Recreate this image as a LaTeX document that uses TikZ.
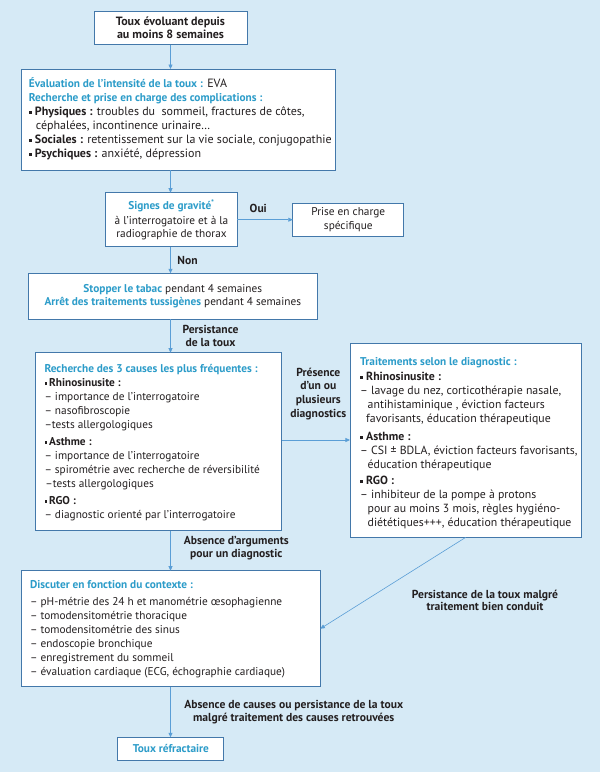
\documentclass[tikz,border=0pt]{standalone}
\usepackage{fontspec}
\setmainfont{PT Sans}
\usetikzlibrary{arrows.meta}
\definecolor{bgc}{HTML}{D6EAF6}
\definecolor{boxc}{HTML}{4378AA}
\definecolor{arrc}{HTML}{5A9ED6}
\definecolor{ttl}{HTML}{2C9CC9}
\definecolor{txt}{HTML}{231F20}
\newcommand{\sq}{\rule[0.3ex]{2.8pt}{2.8pt}}
\newcommand{\ttlt}[1]{{\color{ttl}\bfseries#1}}
\newcommand{\ttls}[1]{{\fontsize{11.3}{14}\selectfont\color{ttl}\bfseries#1}}
\newcommand{\freg}{\fontsize{11.3}{14}\selectfont}
\newcommand{\fbld}{\fontsize{11.6}{13}\selectfont\bfseries}
\begin{document}
\begin{tikzpicture}[x=1pt,y=-1pt,
  every node/.style={text=txt,font=\freg},
  box/.style={draw=boxc,fill=white,line width=0.9pt,inner sep=0pt,outer sep=0pt},
  cbox/.style={box,align=center},
  btxt/.style={anchor=base west,align=left,inner sep=0pt},
  lab/.style={align=center,font=\fbld,inner sep=0pt},
  arr/.style={draw=arrc,line width=0.6pt,-{Triangle[length=4.5pt,width=4pt]}}]
\fill[bgc] (0,0) rectangle (600,772);
\useasboundingbox (0,0) rectangle (600,772);

% boxes
\node[cbox,minimum width=153pt,minimum height=33.4pt,font=\fontsize{12}{12.8}\selectfont\bfseries] (top) at (170.5,28)
  {Toux évoluant depuis\\au moins 8 semaines};
\node[box,minimum width=314.6pt,minimum height=101pt] (eval) at (178.3,119.5) {};
\node[cbox,minimum width=131.7pt,minimum height=54pt,font=\fontsize{11.3}{13.4}\selectfont] (sig) at (171.5,219.7)
  {\ttlt{Signes de gravité\textsuperscript{*}}\\[1.5pt]à l’interrogatoire et à la\\radiographie de thorax};
\node[cbox,minimum width=111pt,minimum height=32.7pt,font=\fontsize{11.3}{13.4}\selectfont] (prise) at (348.3,219.7)
  {Prise en charge\\spécifique};
\node[cbox,minimum width=288.3pt,minimum height=46pt,font=\fontsize{11.3}{13.4}\selectfont] (stop) at (172.8,296.3)
  {\ttlt{Stopper le tabac} pendant 4 semaines\\
   \ttlt{Arrêt des traitements tussigènes} pendant 4 semaines};
\node[box,minimum width=246.7pt,minimum height=178pt] (rech) at (158.3,441.7) {};
\node[box,minimum width=231.7pt,minimum height=194pt] (trait) at (465.8,440.3) {};
\node[box,minimum width=299.3pt,minimum height=116pt] (disc) at (170.7,628.7) {};
\node[cbox,minimum width=106pt,minimum height=23.4pt] (refr) at (170.9,749)
  {\ttlt{Toux réfractaire}};

% box texts (anchored at the baseline of their last line)
\node[btxt,font=\fontsize{12}{14}\selectfont] (evalt) at (28.7,157.5)
  {\ttls{Évaluation de l’intensité de la toux :} EVA\\
   \ttls{Recherche et prise en charge des complications :}\\
   \sq\ \textbf{Physiques :} troubles du\ \ sommeil, fractures de côtes,\\
   \hspace*{7pt}céphalées, incontinence urinaire…\\
   \sq\ \textbf{Sociales :} retentissement sur la vie sociale, conjugopathie\\
   \sq\ \textbf{Psychiques :} anxiété, dépression};

\node[btxt] (recht) at (44.3,518.5)
  {\ttlt{Recherche des 3 causes les plus fréquentes :}\\
   \sq\,\textbf{Rhinosinusite :}\\
   – importance de l’interrogatoire\\
   – nasofibroscopie\\
   –tests allergologiques\\[2.5pt]
   \sq\,\textbf{Asthme :}\\
   – importance de l’interrogatoire\\
   – spirométrie avec recherche de réversibilité\\
   \hspace*{1pt}–tests allergologiques\\[3.3pt]
   \sq\,\textbf{RGO :}\\
   – diagnostic orienté par l’interrogatoire};

\node[btxt,font=\fontsize{11.8}{13.8}\selectfont] (traitt) at (360,526.2)
  {\ttls{Traitements selon le diagnostic :}\\[1.7pt]
   \sq\ \textbf{Rhinosinusite :}\\
   – lavage du nez, corticothérapie nasale,\\
   \hspace*{7.5pt}antihistaminique , éviction facteurs\\
   \hspace*{6pt}favorisants, éducation thérapeutique\\[4.5pt]
   \sq\ \textbf{Asthme :}\\
   – CSI ± BDLA, éviction facteurs favorisants,\\
   \hspace*{7.5pt}éducation thérapeutique\\[3pt]
   \sq\ \textbf{RGO :}\\
   – inhibiteur de la pompe à protons\\
   \hspace*{7.5pt}pour au moins 3 mois, règles hygiéno-\\
   \hspace*{7.5pt}diététiques+++, éducation thérapeutique};

\node[btxt,font=\fontsize{11.3}{14}\selectfont] (disct) at (29.9,675.5)
  {\ttlt{Discuter en fonction du contexte :}\\[3.3pt]
   – pH-métrie des 24 h et manométrie œsophagienne\\
   – tomodensitométrie thoracique\\
   – tomodensitométrie des sinus\\
   – endoscopie bronchique\\
   – enregistrement du sommeil\\
   – évaluation cardiaque (ECG, échographie cardiaque)};

% connectors
\coordinate (rp) at ([yshift=1.7pt]rech.east);
\draw[arr] (top.south) -- (top.south |- eval.north);
\draw[arr] (eval.south -| top.south) -- (top.south |- sig.north);
\draw[arr] (sig.east) -- (prise.west);
\draw[arr] (sig.south -| top.south) -- (top.south |- stop.north);
\draw[arr] (stop.south -| top.south) -- (top.south |- rech.north);
\draw[arr] (rp) -- (rp -| trait.west);
\draw[arr] (rech.south -| top.south) -- (top.south |- disc.north);
\draw[arr] (trait.south) -- (disc.east);
\draw[arr] (disc.south -| top.south) -- (top.south |- refr.north);

% labels
\node[lab] (loui) at (258.3,208.3) {Oui};
\node[lab] (lnon) at (187.5,260) {Non};
\node[lab] (lpers) at (210.5,335.8) {Persistance\\de la toux};
\node[lab,font=\fontsize{11.6}{13.7}\selectfont\bfseries] (lpres) at (318.3,393.8) {Présence\\d’un ou\\plusieurs\\diagnostics};
\node[lab] (labs) at (236.3,548.6) {Absence d’arguments\\pour un diagnostic};
\node[lab,font=\fontsize{11.6}{12}\selectfont\bfseries] (lmal) at (485,600.1) {Persistance de la toux malgré\\traitement bien conduit};
\node[lab] (lcau) at (293.7,712.3) {Absence de causes ou persistance de la toux\\malgré traitement des causes retrouvées};
\end{tikzpicture}
\end{document}
